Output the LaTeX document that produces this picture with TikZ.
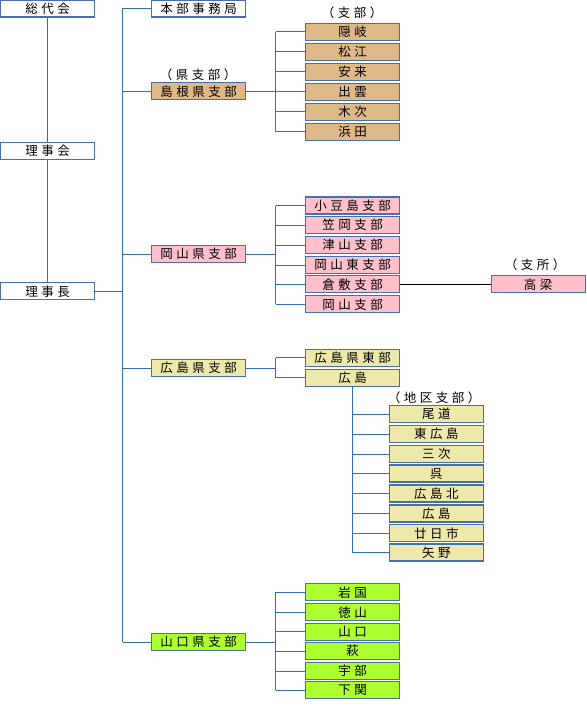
\documentclass[tikz,border=0pt]{standalone}
\usepackage{fontspec}
\newfontfamily\jp[LetterSpace=28]{Noto Sans CJK JP}
\definecolor{linec}{RGB}{52,108,178}
\definecolor{bordc}{RGB}{70,112,170}
\definecolor{tan}{RGB}{222,184,135}
\definecolor{pinkc}{RGB}{255,192,203}
\definecolor{khaki}{RGB}{238,232,170}
\definecolor{lime}{RGB}{173,255,47}
\tikzset{
  box/.style={draw=bordc, line width=1.2pt, minimum width=94pt, minimum height=17pt, inner sep=0pt, font=\jp\fontsize{12.5}{13}\selectfont},
  lbl/.style={inner sep=0pt, font=\jp\fontsize{12.5}{13}\selectfont},
  conn/.style={draw=linec, line width=1pt},
}
\begin{document}
\begin{tikzpicture}[x=1pt,y=-1pt]
\useasboundingbox (0,0) rectangle (586,722);
% left column
\node[box, fill=white] (sd) at (47.5,8.5) {総代会};
\node[box, fill=white] (rjk) at (47.5,151) {理事会};
\node[box, fill=white] (rjc) at (47.5,291.3) {理事長};
% second column
\node[box, fill=white] (hq) at (198.5,8.5) {本部事務局};
\node[box, fill=tan] (sm) at (198.5,91.3) {島根県支部};
\node[box, fill=pinkc] (ok) at (198.5,254) {岡山県支部};
\node[box, fill=khaki] (hs) at (198.5,368) {広島県支部};
\node[box, fill=lime] (yg) at (198.5,642) {山口県支部};
\node[lbl] (lsm) at (198,75) {（県支部）};
% Shimane children
\node[lbl] (ls) at (352,12.3) {（支部）};
\node[box, fill=tan] (s1) at (352.7,32) {隠岐};
\node[box, fill=tan] (s2) at (352.7,52) {松江};
\node[box, fill=tan] (s3) at (352.7,72) {安来};
\node[box, fill=tan] (s4) at (352.7,92) {出雲};
\node[box, fill=tan] (s5) at (352.7,112) {木次};
\node[box, fill=tan] (s6) at (352.7,132) {浜田};
% Okayama children
\node[box, fill=pinkc] (o1) at (352.7,205.5) {小豆島支部};
\node[box, fill=pinkc] (o2) at (352.7,225) {笠岡支部};
\node[box, fill=pinkc] (o3) at (352.7,245) {津山支部};
\node[box, fill=pinkc] (o4) at (352.7,265) {岡山東支部};
\node[box, fill=pinkc] (o5) at (352.7,284.3) {倉敷支部};
\node[box, fill=pinkc] (o6) at (352.7,304.3) {岡山支部};
\node[lbl] (lo) at (535,265) {（支所）};
\node[box, fill=pinkc] (tk) at (538.2,284.3) {高梁};
% Hiroshima children
\node[box, fill=khaki] (he) at (352.7,357.8) {広島県東部};
\node[box, fill=khaki] (hh) at (352.7,377.8) {広島};
\node[lbl] (lh) at (434,397.3) {（地区支部）};
\node[box, fill=khaki] (h1) at (436.3,414) {尾道};
\node[box, fill=khaki] (h2) at (436.3,434) {東広島};
\node[box, fill=khaki] (h3) at (436.3,454) {三次};
\node[box, fill=khaki] (h4) at (436.3,473.5) {呉};
\node[box, fill=khaki] (h5) at (436.3,493.5) {広島北};
\node[box, fill=khaki] (h6) at (436.3,513.5) {広島};
\node[box, fill=khaki] (h7) at (436.3,533.3) {廿日市};
\node[box, fill=khaki] (h8) at (436.3,552.5) {矢野};
% Yamaguchi children
\node[box, fill=lime] (y1) at (352.7,592.3) {岩国};
\node[box, fill=lime] (y2) at (352.7,612.3) {徳山};
\node[box, fill=lime] (y3) at (352.7,631.6) {山口};
\node[box, fill=lime] (y4) at (352.7,651) {萩};
\node[box, fill=lime] (y5) at (352.7,671) {宇部};
\node[box, fill=lime] (y6) at (352.7,690.3) {下関};
% branch x positions
\coordinate (tr) at (122.7,0);
\coordinate (bx) at (275.7,0);
\coordinate (hx) at (352.3,0);
% left column connectors
\draw[conn] (sd.south) -- (rjk.north);
\draw[conn] (rjk.south) -- (rjc.north);
\draw[conn] (rjc.east) -- (rjc.east -| tr);
% trunk
\draw[conn] (hq.west -| tr) -- (yg.west -| tr);
\foreach \n in {hq,sm,ok,hs,yg} { \draw[conn] (\n.west) -- (\n.west -| tr); }
% Shimane
\draw[conn] (s1.west -| bx) -- (s6.west -| bx);
\draw[conn] (sm.east) -- (sm.east -| bx);
\foreach \n in {s1,s2,s3,s4,s5,s6} { \draw[conn] (\n.west) -- (\n.west -| bx); }
% Okayama
\draw[conn] (o1.west -| bx) -- (o6.west -| bx);
\draw[conn] (ok.east) -- (ok.east -| bx);
\foreach \n in {o1,o2,o3,o4,o5,o6} { \draw[conn] (\n.west) -- (\n.west -| bx); }
\draw[black, line width=1pt] (o5.east) -- (tk.west);
% Hiroshima
\draw[conn] (he.west -| bx) -- (hh.west -| bx);
\draw[conn] (hs.east) -- (hs.east -| bx);
\foreach \n in {he,hh} { \draw[conn] (\n.west) -- (\n.west -| bx); }
\draw[conn] (hh.south -| hx) -- (h8.west -| hx);
\foreach \n in {h1,h2,h3,h4,h5,h6,h7,h8} { \draw[conn] (\n.west) -- (\n.west -| hx); }
% Yamaguchi
\draw[conn] (y1.west -| bx) -- (y6.west -| bx);
\draw[conn] (yg.east) -- (yg.east -| bx);
\foreach \n in {y1,y2,y3,y4,y5,y6} { \draw[conn] (\n.west) -- (\n.west -| bx); }
\end{tikzpicture}
\end{document}
